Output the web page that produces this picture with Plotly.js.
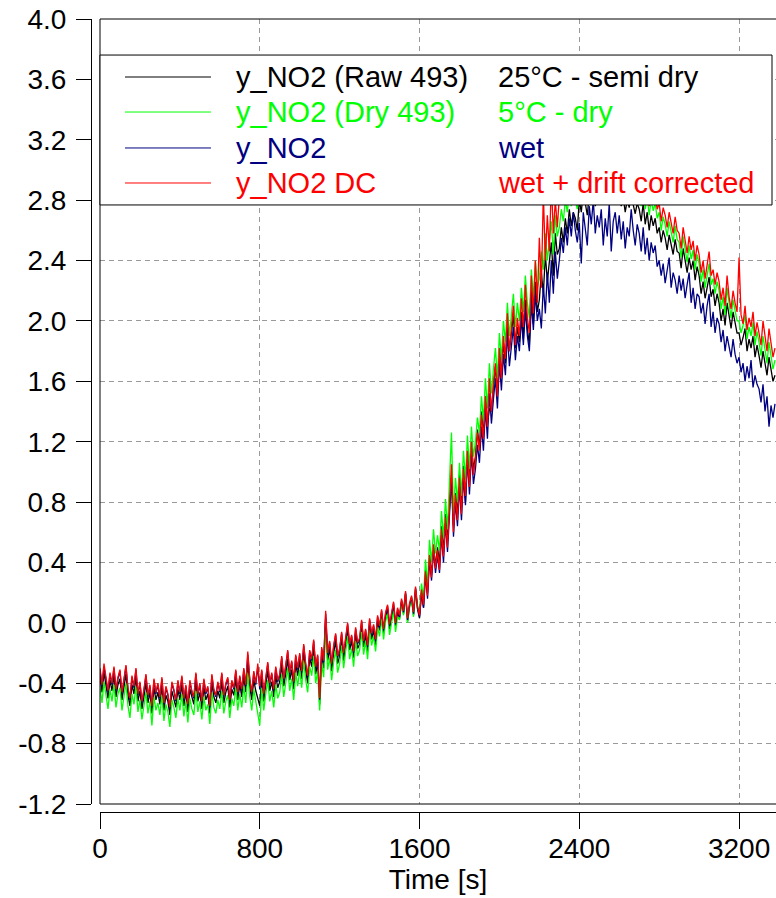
<!DOCTYPE html>
<html>
<head>
<meta charset="utf-8">
<script src="https://cdn.plot.ly/plotly-3.0.1.min.js"></script>
<style>html,body{margin:0;padding:0;overflow:hidden;background:#fff}</style>
</head>
<body>
<div id="chart" style="width:776px;height:898px"></div>
<script>
// Time [s]
const time = [
0,10,20,30,40,50,60,70,80,90,
100,110,120,130,140,150,160,170,180,190,
200,210,220,230,240,250,260,270,280,290,
300,310,320,330,340,350,360,370,380,390,
400,410,420,430,440,450,460,470,480,490,
500,510,520,530,540,550,560,570,580,590,
600,610,620,630,640,650,660,670,680,690,
700,710,720,730,740,750,760,770,780,790,
800,810,820,830,840,850,860,870,880,890,
900,910,920,930,940,950,960,970,980,990,
1000,1010,1020,1030,1040,1050,1060,1070,1080,1090,
1100,1110,1120,1130,1140,1150,1160,1170,1180,1190,
1200,1210,1220,1230,1240,1250,1260,1270,1280,1290,
1300,1310,1320,1330,1340,1350,1360,1370,1380,1390,
1400,1410,1420,1430,1440,1450,1460,1470,1480,1490,
1500,1510,1520,1530,1540,1550,1560,1570,1580,1590,
1600,1610,1620,1630,1640,1650,1660,1670,1680,1690,
1700,1710,1720,1730,1740,1750,1760,1770,1780,1790,
1800,1810,1820,1830,1840,1850,1860,1870,1880,1890,
1900,1910,1920,1930,1940,1950,1960,1970,1980,1990,
2000,2010,2020,2030,2040,2050,2060,2070,2080,2090,
2100,2110,2120,2130,2140,2150,2160,2170,2180,2190,
2200,2210,2220,2230,2240,2250,2260,2270,2280,2290,
2300,2310,2320,2330,2340,2350,2360,2370,2380,2390,
2400,2410,2420,2430,2440,2450,2460,2470,2480,2490,
2500,2510,2520,2530,2540,2550,2560,2570,2580,2590,
2600,2610,2620,2630,2640,2650,2660,2670,2680,2690,
2700,2710,2720,2730,2740,2750,2760,2770,2780,2790,
2800,2810,2820,2830,2840,2850,2860,2870,2880,2890,
2900,2910,2920,2930,2940,2950,2960,2970,2980,2990,
3000,3010,3020,3030,3040,3050,3060,3070,3080,3090,
3100,3110,3120,3130,3140,3150,3160,3170,3180,3190,
3200,3210,3220,3230,3240,3250,3260,3270,3280,3290,
3300,3310,3320,3330,3340,3350,3360,3370,3380];

// y_NO2 (Raw 493) - 25°C semi dry
const yRaw493 = [
-0.36,-0.46,-0.33,-0.43,-0.50,-0.38,-0.45,-0.35,-0.49,-0.41,
-0.37,-0.51,-0.43,-0.34,-0.48,-0.55,-0.41,-0.47,-0.36,-0.52,
-0.45,-0.57,-0.49,-0.40,-0.53,-0.46,-0.60,-0.43,-0.51,-0.46,
-0.54,-0.42,-0.58,-0.48,-0.52,-0.61,-0.45,-0.50,-0.56,-0.44,
-0.51,-0.41,-0.55,-0.46,-0.59,-0.44,-0.50,-0.54,-0.39,-0.52,
-0.46,-0.57,-0.43,-0.51,-0.47,-0.60,-0.40,-0.49,-0.53,-0.45,
-0.50,-0.39,-0.53,-0.46,-0.42,-0.56,-0.44,-0.48,-0.37,-0.51,
-0.41,-0.49,-0.36,-0.46,-0.26,-0.43,-0.51,-0.38,-0.45,-0.50,
-0.55,-0.37,-0.52,-0.41,-0.32,-0.45,-0.39,-0.49,-0.35,-0.43,
-0.39,-0.28,-0.42,-0.34,-0.24,-0.38,-0.31,-0.44,-0.27,-0.35,
-0.25,-0.37,-0.19,-0.32,-0.40,-0.23,-0.29,-0.16,-0.34,-0.26,
-0.54,-0.21,-0.30,0.03,-0.25,-0.17,-0.32,-0.20,-0.12,-0.27,
-0.22,-0.10,-0.25,-0.14,-0.04,-0.18,-0.12,-0.23,-0.07,-0.17,
-0.14,-0.02,-0.16,-0.08,-0.19,-0.01,-0.11,-0.05,-0.15,0.01,
-0.05,0.06,-0.07,0.04,0.09,-0.04,0.03,0.11,-0.02,0.07,
0.03,0.14,0.06,0.19,0.01,0.11,0.16,0.05,0.22,0.09,
0.03,0.20,0.10,0.35,0.20,0.44,0.32,0.50,0.38,0.50,
0.40,0.64,0.47,0.72,0.54,0.80,0.98,0.64,0.86,0.72,
0.98,0.76,1.04,0.80,1.12,0.94,1.18,1.02,1.10,1.28,
1.16,1.40,1.24,1.50,1.32,1.42,1.40,1.56,1.70,1.52,
1.80,1.64,1.86,1.72,1.98,1.80,1.92,2.04,1.82,1.96,
1.86,2.06,1.88,2.14,1.95,1.84,2.20,1.98,2.26,2.06,
2.14,2.32,2.18,2.44,2.26,2.38,2.52,2.30,2.58,2.44,
2.48,2.62,2.52,2.68,2.58,2.74,2.63,2.72,2.68,2.60,
2.80,2.72,2.86,2.78,2.70,2.84,2.79,2.88,2.76,2.82,
2.80,2.87,2.82,2.90,2.78,2.85,2.88,2.81,2.86,2.79,
2.84,2.76,2.82,2.72,2.80,2.75,2.86,2.77,2.71,2.78,
2.74,2.66,2.78,2.64,2.72,2.60,2.70,2.63,2.68,2.58,
2.62,2.52,2.60,2.55,2.47,2.57,2.49,2.44,2.54,2.46,
2.45,2.35,2.48,2.39,2.32,2.42,2.34,2.40,2.27,2.36,
2.30,2.18,2.26,2.15,2.22,2.29,2.16,2.21,2.10,2.18,
2.12,2.00,2.08,1.97,2.12,2.03,1.95,2.06,1.98,1.92,
1.92,1.84,1.89,1.95,1.80,1.88,1.82,1.90,1.76,1.84,
1.77,1.69,1.80,1.72,1.64,1.76,1.68,1.60,1.64];

// y_NO2 (Dry 493) - 5°C dry
const yDry493 = [
-0.42,-0.53,-0.39,-0.50,-0.57,-0.44,-0.52,-0.41,-0.56,-0.47,
-0.43,-0.58,-0.49,-0.40,-0.55,-0.63,-0.47,-0.54,-0.42,-0.59,
-0.51,-0.64,-0.55,-0.46,-0.60,-0.52,-0.68,-0.49,-0.58,-0.53,
-0.61,-0.48,-0.65,-0.54,-0.59,-0.69,-0.51,-0.56,-0.63,-0.50,
-0.58,-0.47,-0.62,-0.52,-0.66,-0.50,-0.57,-0.61,-0.45,-0.59,
-0.52,-0.64,-0.49,-0.58,-0.54,-0.67,-0.46,-0.56,-0.60,-0.51,
-0.57,-0.45,-0.60,-0.52,-0.48,-0.63,-0.50,-0.55,-0.43,-0.58,
-0.47,-0.56,-0.42,-0.53,-0.33,-0.49,-0.58,-0.44,-0.52,-0.61,
-0.68,-0.43,-0.58,-0.47,-0.38,-0.52,-0.45,-0.56,-0.41,-0.50,
-0.46,-0.34,-0.49,-0.40,-0.30,-0.45,-0.37,-0.51,-0.33,-0.42,
-0.31,-0.43,-0.25,-0.38,-0.46,-0.29,-0.35,-0.22,-0.40,-0.32,
-0.58,-0.27,-0.36,-0.03,-0.31,-0.23,-0.38,-0.26,-0.18,-0.33,
-0.27,-0.15,-0.30,-0.19,-0.09,-0.24,-0.17,-0.29,-0.12,-0.22,
-0.18,-0.06,-0.21,-0.12,-0.24,-0.05,-0.15,-0.09,-0.19,-0.03,
-0.09,0.03,-0.11,0.01,0.06,-0.08,0.00,0.08,-0.06,0.04,
0.02,0.13,0.05,0.19,0.00,0.10,0.16,0.04,0.22,0.09,
0.08,0.26,0.16,0.42,0.25,0.55,0.40,0.62,0.46,0.58,
0.48,0.74,0.56,0.82,0.62,0.90,1.26,0.72,0.96,0.80,
1.06,0.84,1.14,0.95,1.24,1.02,1.30,1.10,1.20,1.36,
1.26,1.50,1.34,1.62,1.42,1.72,1.52,1.68,1.82,1.62,
1.92,1.74,2.00,1.86,2.12,1.90,2.06,2.18,1.96,2.12,
2.00,2.22,2.06,2.30,2.12,2.02,2.34,2.14,2.40,2.22,
2.28,2.46,2.34,2.58,2.40,2.52,2.66,2.44,2.70,2.56,
2.62,2.74,2.66,2.80,2.72,2.86,2.76,2.84,2.80,2.74,
2.92,2.84,2.96,2.88,2.82,2.95,2.90,2.98,2.86,2.93,
2.90,2.97,2.92,3.00,2.88,2.95,2.98,2.91,2.96,2.89,
2.94,2.86,2.92,2.83,2.90,2.85,2.96,2.88,2.82,2.89,
2.84,2.76,2.88,2.74,2.82,2.70,2.80,2.73,2.78,2.68,
2.72,2.60,2.69,2.64,2.56,2.66,2.58,2.52,2.63,2.54,
2.52,2.42,2.56,2.46,2.39,2.50,2.41,2.47,2.34,2.44,
2.38,2.26,2.34,2.22,2.30,2.38,2.24,2.28,2.18,2.26,
2.20,2.08,2.16,2.04,2.22,2.10,2.02,2.14,2.06,2.00,
2.00,1.92,1.97,2.04,1.88,1.96,1.90,1.99,1.84,1.93,
1.86,1.77,1.90,1.80,1.72,1.86,1.78,1.68,1.74];

// y_NO2 - wet
const yWet = [
-0.31,-0.42,-0.29,-0.39,-0.46,-0.34,-0.41,-0.30,-0.45,-0.37,
-0.32,-0.47,-0.39,-0.29,-0.44,-0.51,-0.36,-0.43,-0.31,-0.48,
-0.40,-0.53,-0.45,-0.35,-0.49,-0.42,-0.56,-0.38,-0.47,-0.41,
-0.50,-0.37,-0.54,-0.43,-0.48,-0.57,-0.40,-0.45,-0.52,-0.39,
-0.47,-0.36,-0.51,-0.42,-0.55,-0.39,-0.46,-0.50,-0.34,-0.48,
-0.41,-0.53,-0.38,-0.47,-0.43,-0.56,-0.35,-0.45,-0.49,-0.40,
-0.46,-0.34,-0.49,-0.41,-0.37,-0.52,-0.39,-0.44,-0.32,-0.47,
-0.36,-0.45,-0.31,-0.42,-0.21,-0.38,-0.47,-0.33,-0.41,-0.29,
-0.44,-0.32,-0.48,-0.36,-0.27,-0.41,-0.34,-0.45,-0.30,-0.39,
-0.35,-0.23,-0.38,-0.29,-0.19,-0.34,-0.26,-0.40,-0.22,-0.31,
-0.21,-0.33,-0.15,-0.28,-0.36,-0.19,-0.25,-0.12,-0.30,-0.22,
-0.51,-0.17,-0.26,0.06,-0.21,-0.13,-0.28,-0.16,-0.08,-0.23,
-0.18,-0.07,-0.21,-0.11,-0.01,-0.15,-0.09,-0.20,-0.04,-0.14,
-0.11,0.01,-0.13,-0.05,-0.16,0.02,-0.08,-0.02,-0.12,0.04,
-0.03,0.08,-0.05,0.06,0.11,-0.02,0.05,0.13,-0.01,0.09,
0.04,0.15,0.07,0.20,0.02,0.12,0.17,0.06,0.23,0.10,
0.04,0.20,0.10,0.32,0.16,0.42,0.28,0.48,0.33,0.45,
0.33,0.58,0.40,0.66,0.47,0.74,0.96,0.57,0.80,0.64,
0.90,0.68,0.96,0.78,1.08,0.85,1.12,0.92,1.02,1.18,
1.06,1.30,1.14,1.42,1.22,1.52,1.32,1.48,1.62,1.42,
1.72,1.54,1.78,1.64,1.92,1.70,1.86,1.96,1.74,1.90,
1.80,2.02,1.84,2.08,1.90,1.80,2.12,1.94,2.18,2.00,
2.08,1.95,2.24,2.05,2.32,2.12,2.40,2.18,2.46,2.28,
2.40,2.55,2.45,2.62,2.50,2.68,2.56,2.72,2.60,2.52,
2.65,2.38,2.72,2.60,2.50,2.76,2.64,2.80,2.58,2.70,
2.62,2.74,2.50,2.68,2.56,2.78,2.46,2.66,2.72,2.58,
2.70,2.54,2.66,2.48,2.62,2.56,2.74,2.60,2.50,2.64,
2.58,2.46,2.62,2.44,2.55,2.40,2.52,2.45,2.50,2.36,
2.40,2.30,2.38,2.25,2.35,2.42,2.22,2.32,2.27,2.18,
2.30,2.20,2.28,2.15,2.24,2.32,2.12,2.22,2.08,2.18,
2.16,2.05,2.12,1.98,2.10,2.18,1.96,2.06,1.92,2.02,
1.98,1.86,1.94,1.80,1.90,1.84,1.76,1.88,1.78,1.72,
1.76,1.66,1.72,1.60,1.70,1.62,1.74,1.56,1.64,1.58,
1.55,1.46,1.58,1.40,1.50,1.30,1.44,1.36,1.45];

// y_NO2 DC - wet + drift corrected
const yDC = [
-0.30,-0.41,-0.27,-0.38,-0.45,-0.33,-0.40,-0.29,-0.44,-0.36,
-0.31,-0.46,-0.38,-0.28,-0.43,-0.50,-0.35,-0.42,-0.30,-0.47,
-0.39,-0.52,-0.44,-0.34,-0.48,-0.41,-0.55,-0.37,-0.46,-0.40,
-0.49,-0.36,-0.53,-0.42,-0.47,-0.56,-0.39,-0.44,-0.51,-0.38,
-0.46,-0.35,-0.50,-0.41,-0.54,-0.38,-0.45,-0.49,-0.33,-0.47,
-0.40,-0.52,-0.37,-0.46,-0.42,-0.55,-0.34,-0.44,-0.48,-0.39,
-0.45,-0.33,-0.48,-0.40,-0.36,-0.51,-0.38,-0.43,-0.31,-0.46,
-0.35,-0.44,-0.30,-0.41,-0.19,-0.37,-0.46,-0.32,-0.40,-0.27,
-0.42,-0.31,-0.47,-0.35,-0.26,-0.40,-0.33,-0.44,-0.29,-0.38,
-0.34,-0.22,-0.37,-0.28,-0.18,-0.33,-0.25,-0.39,-0.21,-0.30,
-0.20,-0.32,-0.14,-0.27,-0.35,-0.18,-0.24,-0.11,-0.29,-0.21,
-0.50,-0.16,-0.25,0.08,-0.20,-0.12,-0.27,-0.15,-0.07,-0.22,
-0.17,-0.06,-0.20,-0.10,0.00,-0.14,-0.08,-0.19,-0.03,-0.13,
-0.10,0.02,-0.12,-0.04,-0.15,0.03,-0.07,-0.01,-0.11,0.05,
-0.02,0.09,-0.04,0.07,0.12,-0.01,0.06,0.14,0.00,0.10,
0.05,0.16,0.08,0.21,0.03,0.13,0.18,0.07,0.24,0.11,
0.05,0.22,0.12,0.34,0.18,0.45,0.30,0.52,0.36,0.48,
0.35,0.62,0.44,0.70,0.50,0.78,1.05,0.60,0.85,0.68,
0.96,0.72,1.02,0.84,1.14,0.90,1.20,0.98,1.08,1.26,
1.14,1.38,1.22,1.50,1.30,1.62,1.40,1.58,1.72,1.50,
1.82,1.62,1.90,1.75,2.05,1.80,1.96,2.10,1.84,2.02,
1.90,2.15,1.96,2.24,2.02,1.92,2.30,2.05,2.40,2.12,
2.55,2.22,2.85,2.40,2.70,2.46,2.92,2.58,2.80,2.62,
2.82,2.95,2.78,2.90,2.85,3.00,2.88,2.96,2.92,2.86,
3.00,2.92,3.05,2.96,2.90,3.02,2.97,3.06,2.93,2.99,
2.96,3.04,2.98,3.08,2.94,3.01,3.05,2.97,3.03,2.95,
3.00,2.92,2.98,2.88,2.96,2.90,3.02,2.93,2.87,2.95,
2.90,2.82,2.94,2.80,2.88,2.76,2.86,2.79,2.84,2.74,
2.78,2.66,2.75,2.70,2.62,2.72,2.64,2.58,2.69,2.60,
2.58,2.48,2.62,2.52,2.45,2.56,2.47,2.53,2.40,2.50,
2.44,2.32,2.40,2.28,2.36,2.46,2.30,2.34,2.24,2.32,
2.26,2.14,2.22,2.10,2.30,2.16,2.08,2.20,2.12,2.06,
2.42,2.04,1.98,2.10,1.94,2.02,1.96,2.06,1.90,1.99,
1.92,1.84,2.00,1.88,1.80,1.95,1.86,1.76,1.82];

const seriesNames = ["y_NO2 (Raw 493)", "y_NO2 (Dry 493)", "y_NO2", "y_NO2 DC"];
const seriesNotes = ["25°C - semi dry", "5°C - dry", "wet", "wet + drift corrected"];
const seriesColors = ["#000000", "#00ff00", "#000080", "#ff0000"];
const seriesData = [yRaw493, yDry493, yWet, yDC];

const xTickVals = [0, 800, 1600, 2400, 3200];
const yTickVals = [-1.2,-0.8,-0.4,0.0,0.4,0.8,1.2,1.6,2.0,2.4,2.8,3.2,3.6,4.0];
const yTickText = ["-1.2","-0.8","-0.4","0.0","0.4","0.8","1.2","1.6","2.0","2.4","2.8","3.2","3.6","4.0"];

const FONT = "Liberation Sans, Arial, sans-serif";

const traces = seriesData.map((ys, i) => ({
  type: "scatter", mode: "lines", x: time, y: ys,
  name: seriesNames[i], line: {color: seriesColors[i], width: 1.3},
  showlegend: false, hoverinfo: "skip"
}));

const rowY = [0.9261, 0.8815, 0.8357, 0.7911];
const shapes = [
  {type:"line", xref:"x domain", yref:"y domain", x0:0, x1:0, y0:0, y1:1, line:{color:"#000", width:1}, layer:"above"},
  {type:"line", xref:"x domain", yref:"y domain", x0:0, x1:1, y0:1, y1:1, line:{color:"#000", width:1}, layer:"above"},
  {type:"line", xref:"x domain", yref:"y domain", x0:0, x1:1, y0:0, y1:0, line:{color:"#000", width:1}, layer:"above"},
  {type:"rect", xref:"x domain", yref:"y domain", x0:0, x1:0.9941, y0:0.7631, y1:0.9541,
   fillcolor:"#ffffff", line:{color:"#000", width:1}, layer:"above"}
];
const annotations = [];
rowY.forEach((yy, i) => {
  shapes.push({type:"line", xref:"x domain", yref:"y domain", x0:0.037, x1:0.1642, y0:yy, y1:yy,
    line:{color: seriesColors[i], width:1}, layer:"above"});
  annotations.push({xref:"x domain", yref:"y domain", x:0.1985, y:yy, xanchor:"left", yanchor:"middle",
    text: seriesNames[i], showarrow:false, font:{family:FONT, size:29, color: seriesColors[i]}});
  annotations.push({xref:"x domain", yref:"y domain", x:0.586, y:yy, xanchor:"left", yanchor:"middle",
    text: seriesNotes[i], showarrow:false, font:{family:FONT, size:29, color: seriesColors[i]}});
});

const layout = {
  width: 776, height: 898,
  margin: {l: 91, r: 0, t: 19, b: 86, pad: 0},
  paper_bgcolor: "#fff", plot_bgcolor: "#fff",
  font: {family: FONT, size: 28, color: "#000"},
  xaxis: {
    domain: [0.013139, 1], range: [0, 3385], anchor: "free", position: 0,
    showline: true, linecolor: "#000", linewidth: 1,
    ticks: "outside", ticklen: 16, tickwidth: 1, tickcolor: "#000",
    tickmode: "array", tickvals: xTickVals, ticktext: xTickVals.map(String),
    tickfont: {family: FONT, size: 28, color: "#000"}, ticklabelstandoff: -5,
    showgrid: true, gridcolor: "#9a9a9a", gridwidth: 1, griddash: "5px,4px",
    zeroline: false,
    title: {text: "Time [s]", font: {family: FONT, size: 28, color: "#000"}, standoff: 3}
  },
  yaxis: {
    domain: [0.010088, 1], range: [-1.2, 4.0], anchor: "free", position: 0,
    showline: true, linecolor: "#000", linewidth: 1,
    ticks: "outside", ticklen: 15, tickwidth: 1, tickcolor: "#000",
    tickmode: "array", tickvals: yTickVals, ticktext: yTickText,
    tickfont: {family: FONT, size: 28, color: "#000"}, ticklabelstandoff: 4,
    showgrid: true, gridcolor: "#9a9a9a", gridwidth: 1, griddash: "5px,4px",
    zeroline: false
  },
  shapes: shapes,
  annotations: annotations
};

Plotly.newPlot("chart", traces, layout, {displayModeBar: false, staticPlot: true});
</script>
</body>
</html>
